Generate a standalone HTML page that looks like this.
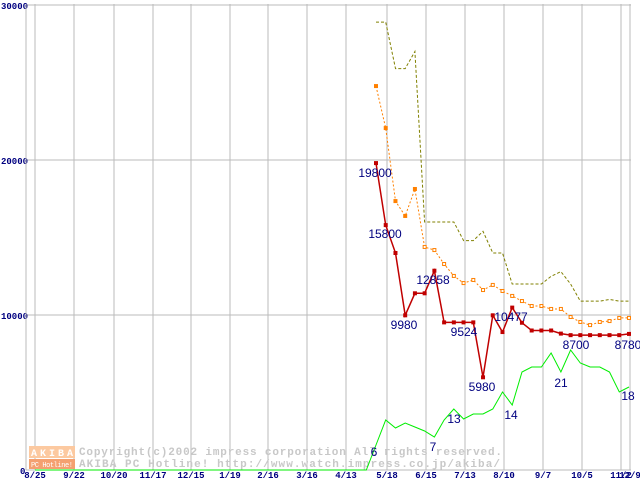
<!DOCTYPE html>
<html><head><meta charset="utf-8"><style>
body{margin:0;background:#fff;width:640px;height:480px;overflow:hidden}
svg{display:block}
text{font-family:"Liberation Mono","DejaVu Sans Mono",monospace}
</style></head><body>
<svg id="c" width="640" height="480"></svg>
<script>
const xLabels=["8/25","9/22","10/20","11/17","12/15","1/19","2/16","3/16","4/13","5/18","6/15","7/13","8/10","9/7","10/5","11/2","12/9"];
const gridX=[35,74,114,153,191,230,268,307,346,387,426,465,504,543,582,621,630];
const yTicks=[0,10000,20000,30000];
const redVals=[19800,15800,14000,9980,11400,11400,12858,9524,9524,9524,9524,5980,9980,8900,10477,9500,9000,9000,9000,8800,8700,8700,8700,8700,8700,8700,8780];
const orangeVals=[24770,22060,17350,16390,18130,14390,14190,13290,12520,12060,12260,11610,11940,11550,11230,10900,10580,10580,10390,10390,9870,9550,9350,9550,9610,9810,9810];
const oliveVals=[28900,28900,25900,25900,27000,16000,16000,16000,16000,14800,14800,15400,14000,14000,12000,12000,12000,12000,12500,12800,12000,10900,10900,10900,11000,10900,10900];
const greenVals=[0,5,10,8.4,9.4,8.6,7.8,6.6,10,12.2,10.2,11.2,11.2,12.2,15.6,13,19.6,20.6,20.6,23.4,19.6,24,21.4,20.6,20.6,19.6,15.6,16.6];
const annotations=[
 ["19800",375,177],["15800",385,238],["9980",404,329],["12858",433,284],["9524",464,336],["5980",482,391],["10477",511,321],["8700",576,349],["8780",628,349],
 ["6",374,456],["7",433,451],["13",454,423],["14",511,419],["21",561,387],["18",628,400]];
const svg=document.getElementById('c');
const NS='http://www.w3.org/2000/svg';
const y=v=>470-v*0.0155;
const x=i=>376+i*9.73;
const gy=v=>470-v*5;
function mk(t,a){const e=document.createElementNS(NS,t);for(const k in a)e.setAttribute(k,a[k]);svg.appendChild(e);return e;}
gridX.forEach((gx,i)=>{const l=mk('line',{x1:gx,y1:4,x2:gx,y2:470,stroke:'#bbb','stroke-width':1});


const t=mk('text',{x:gx,y:478,'text-anchor':'middle','font-size':9,'font-weight':'bold',fill:'#000080'});t.textContent=xLabels[i];

});
yTicks.forEach(v=>{const l=mk('line',{x1:26,y1:y(v),x2:631,y2:y(v),stroke:'#bbb'});


const t=mk('text',{x:v==0?20:1,y:y(v)+4,'font-size':9,'font-weight':'bold',fill:'#000080'});t.textContent=v;

});
const ax=mk('line',{x1:26,y1:4,x2:26,y2:470,stroke:'#bbb'});


const g=document.createElementNS(NS,'g');svg.appendChild(g);


g.innerHTML='<rect x="29" y="446" width="46" height="12" fill="#fcc9a0"/><text x="31" y="456" font-size="10" fill="#fff" font-weight="bold" textLength="42">AKIBA</text><rect x="29" y="459" width="46" height="10" fill="#f4a070"/><text x="31" y="467" font-size="7" fill="#fff" textLength="42">PC Hotline!</text><text x="79" y="455" font-size="11" fill="#c8c8c8" font-weight="bold" textLength="423">Copyright(c)2002 impress corporation All rights reserved.</text><text x="79" y="467" font-size="11" fill="#c8c8c8" font-weight="bold" textLength="421">AKIBA PC Hotline!  http://www.watch.impress.co.jp/akiba/</text>';
let gp='M35 470 '+greenVals.map((v,i)=>'L'+x(i-1).toFixed(1)+' '+gy(v).toFixed(1)).join(' ');
const gl=mk('path',{d:gp,fill:'none',stroke:'#00ee00','stroke-width':1});


const op=oliveVals.map((v,i)=>(i?'L':'M')+x(i).toFixed(1)+' '+y(v).toFixed(1)).join(' ');
const ol=mk('path',{d:op,fill:'none',stroke:'#808000','stroke-width':1,'stroke-dasharray':'3,2'});


const orp=orangeVals.map((v,i)=>(i?'L':'M')+x(i).toFixed(1)+' '+y(v).toFixed(1)).join(' ');
const orl=mk('path',{d:orp,fill:'none',stroke:'#ff8000','stroke-width':1,'stroke-dasharray':'2,2'});


orangeVals.forEach((v,i)=>{const r=mk('rect',{x:x(i)-1.5,y:y(v)-1.5,width:3,height:3,fill:i<5?'#ff8000':'#fff',stroke:'#ff8000','stroke-width':1});

});
const rp=redVals.map((v,i)=>(i?'L':'M')+x(i).toFixed(1)+' '+y(v).toFixed(1)).join(' ');
const rl=mk('path',{d:rp,fill:'none',stroke:'#c00000','stroke-width':1.5});


redVals.forEach((v,i)=>{const r=mk('rect',{x:x(i)-2,y:y(v)-2,width:4,height:4,fill:'#c00000'});

});
annotations.forEach(a=>{const t=mk('text',{x:a[1],y:a[2],'text-anchor':'middle','font-size':12,fill:'#000080'});t.style.fontFamily='"Liberation Sans",sans-serif';t.textContent=a[0];

});
</script>
</body></html>
